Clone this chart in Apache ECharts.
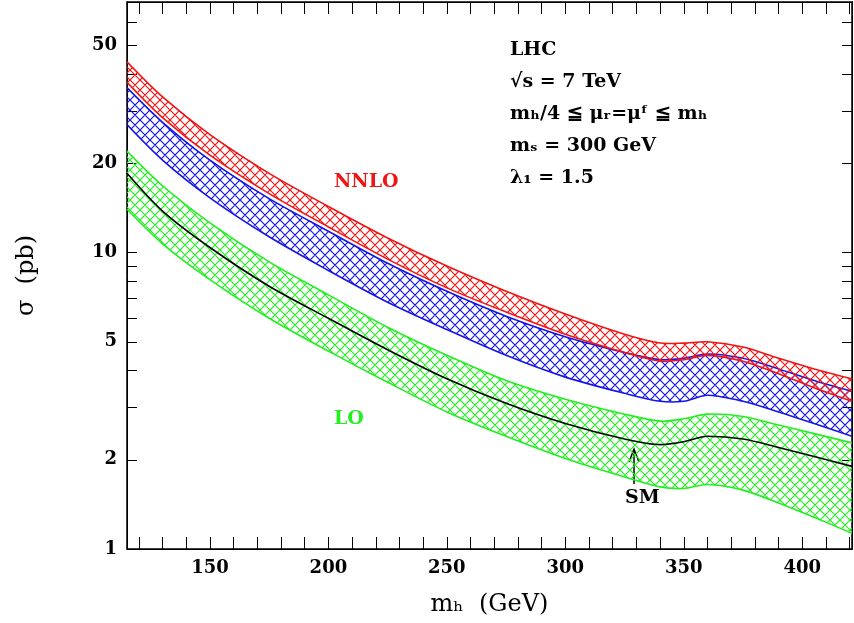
<!DOCTYPE html><html><head><meta charset="utf-8">
<script src="https://cdn.jsdelivr.net/npm/echarts@6/dist/echarts.min.js"></script>
<style>html,body{margin:0;background:#fff}#c{width:854px;height:623px}</style></head><body><div id="c"></div>
<script>
const mh      = [115, 130, 150, 175, 200, 225, 250, 275, 300, 325, 340, 350, 360, 375, 390, 405, 421];
const smLine  = [18.5,13.8,10.4,7.7, 6.0, 4.7, 3.75,3.1, 2.65,2.35,2.25,2.3, 2.4, 2.35,2.2, 2.05,1.9];
const loUp    = [22,  16.8,12.6,9.3, 7.2, 5.6, 4.5, 3.7, 3.2, 2.85,2.7, 2.75,2.85,2.8, 2.62,2.45,2.28];
const loDn    = [14,  10.7,8.1, 6.0, 4.65,3.65,2.9, 2.4, 2.02,1.75,1.62,1.6, 1.65,1.58,1.43,1.28,1.13];
const nloUp   = [36,  27.5,20.5,15.2,11.8,9.2, 7.4, 6.1, 5.2, 4.6, 4.35,4.4, 4.55,4.4, 4.05,3.7, 3.4];
const nloDn   = [27,  20.5,15.3,11.3,8.7, 6.8, 5.5, 4.5, 3.8, 3.35,3.15,3.15,3.3, 3.15,2.9, 2.65,2.4];
const nnloUp  = [44,  33.5,25,  18.5,14.3,11.2,9.0, 7.4, 6.2, 5.3, 4.95,4.95,5.0, 4.8, 4.4, 4.05,3.75];
const nnloDn  = [37.5,28.5,21.3,15.8,12.2,9.5, 7.6, 6.3, 5.3, 4.6, 4.3, 4.35,4.5, 4.3, 3.9, 3.5, 3.15];
const xLabels = [150, 200, 250, 300, 350, 400];
const yLabels = [1, 2, 5, 10, 20, 50];

function hatch(color){
  const c=document.createElement('canvas');c.width=10;c.height=10;
  const g=c.getContext('2d');g.strokeStyle=color;g.lineWidth=1.2;
  g.beginPath();g.moveTo(0,0);g.lineTo(10,10);g.moveTo(10,0);g.lineTo(0,10);
  g.moveTo(-5,5);g.lineTo(5,15);g.moveTo(5,-5);g.lineTo(15,5);
  g.moveTo(15,5);g.lineTo(5,15);g.moveTo(5,-5);g.lineTo(-5,5);g.stroke();
  return {image:c,repeat:'repeat'};
}
function band(up,dn,color){
  const data=mh.map((x,i)=>[x,up[i],dn[i]]);
  return {type:'custom',data,clip:true,z:2,
    renderItem:(params,api)=>{
      if(params.dataIndex!==0) return;
      const top=data.map(d=>api.coord([d[0],d[1]]));
      const bot=data.map(d=>api.coord([d[0],d[2]])).reverse();
      return {type:'group',children:[
        {type:'polygon',shape:{points:top.concat(bot)},style:{fill:hatch(color),stroke:null}},
        {type:'polyline',shape:{points:top,smooth:0.3},style:{stroke:color,lineWidth:1.6,fill:null}},
        {type:'polyline',shape:{points:bot,smooth:0.3},style:{stroke:color,lineWidth:1.6,fill:null}}]};
    }};
}
const minorY=[];for(let d=1;d<=10;d*=10)for(let k=1;k<10;k++){if(d*k<=70)minorY.push(d*k);}
const minorX=[];for(let v=120;v<=420;v+=10)minorX.push(v);
const F='DejaVu Serif';
function xAx(pos,show){return {type:'value',min:115,max:421,position:pos,
    axisLine:{lineStyle:{color:'#000'}},splitLine:{show:false},
    axisTick:{inside:true,length:12,customValues:minorX,lineStyle:{color:'#000'}},
    axisLabel:{show:show,customValues:xLabels,color:'#000',fontFamily:F,fontWeight:'bold',fontSize:18,margin:10},
    name:show?'m\u2095  (GeV)':'',nameLocation:'middle',nameGap:44,
    nameTextStyle:{fontFamily:F,fontSize:24,color:'#000'}};}
function yAx(pos,show){return {type:'log',min:1,max:70,logBase:10,position:pos,
    axisLine:{lineStyle:{color:'#000'}},splitLine:{show:false},
    axisTick:{inside:true,length:10,customValues:minorY,lineStyle:{color:'#000'}},
    axisLabel:{show:show,customValues:yLabels,color:'#000',fontFamily:F,fontWeight:'bold',fontSize:18,margin:10},
    name:show?'\u03c3  (pb)':'',nameLocation:'middle',nameGap:88,
    nameTextStyle:{fontFamily:F,fontSize:24,color:'#000'}};}
const chart=echarts.init(document.getElementById('c'));
chart.setOption({
  animation:false,
  grid:{left:127,right:2,top:2,bottom:74,show:true,borderColor:'#000',borderWidth:1.5},
  xAxis:[xAx('bottom',true),xAx('top',false)],
  yAxis:[yAx('left',true),yAx('right',false)],
  series:[
    band(loUp,loDn,'#22ee22'),
    band(nloUp,nloDn,'#1414e6'),
    band(nnloUp,nnloDn,'#f01414'),
    {type:'line',data:mh.map((x,i)=>[x,smLine[i]]),smooth:0.3,symbol:'none',z:5,
      lineStyle:{color:'#000',width:1.6}}
  ],
  graphic:[
    {type:'text',left:510,top:34,style:{text:'LHC\n\u221as = 7 TeV\nm\u2095/4 \u2266 \u03bc\u1d63=\u03bc\u1da0 \u2266 m\u2095\nm\u209b = 300 GeV\n\u03bb\u2081 = 1.5',font:'bold 19px "DejaVu Serif"',fill:'#000',lineHeight:32}},
    {type:'text',left:334,top:173,style:{text:'NNLO',font:'bold 19px "DejaVu Serif"',fill:'#f01414'}},
    {type:'text',left:334,top:410,style:{text:'LO',font:'bold 19px "DejaVu Serif"',fill:'#22ee22'}},
    {type:'text',left:625,top:489,style:{text:'SM',font:'bold 19px "DejaVu Serif"',fill:'#000'}},
    {type:'line',shape:{x1:634,y1:484,x2:634,y2:450},style:{stroke:'#000',lineWidth:1.5}},
    {type:'polyline',shape:{points:[[629,462],[634,449],[639,462]]},style:{stroke:'#000',lineWidth:1.5,fill:null}}
  ]
});
</script></body></html>
